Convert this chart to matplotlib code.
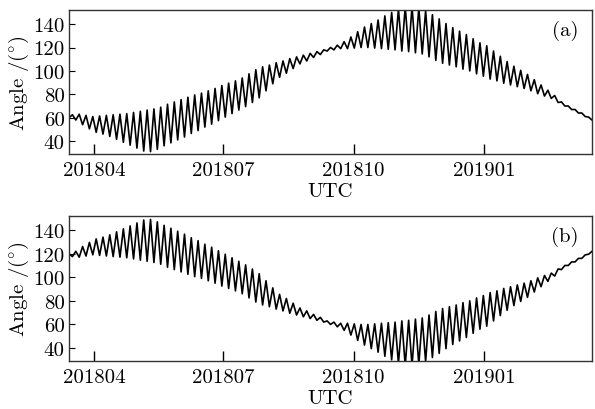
import numpy as np
import matplotlib
matplotlib.use("Agg")
import matplotlib.pyplot as plt
import matplotlib.dates as mdates

# 时间范围 (UTC)
t_start = np.datetime64("2018-03-14T10:00")
t_end = np.datetime64("2019-03-18T00:00")

# (a) 每个周期的峰值 / 谷值 (度)
start_a = 60.0
peaks_a = [62.5, 63, 62, 61, 61.5, 62, 62.5, 63, 63.5, 64.5,
           65.5, 66.5, 67.5, 69, 71.5, 73.5, 75.5, 77.5, 79.5, 81,
           83, 85, 87.5, 89.5, 91.5, 94, 97.5, 101, 103.5, 105,
           107, 108.5, 110.5, 112, 113.5, 115, 116.5, 118, 120, 122,
           125, 129, 133.5, 137.5, 140.5, 143.5, 147, 150, 153, 155,
           155, 154, 151.5, 148, 144.5, 140.5, 137, 134, 131, 127.5,
           124, 121.5, 117, 112.5, 108, 104, 100.5, 97, 92.5, 88,
           83.5, 79, 73.5, 70, 67, 64, 60.5]
troughs_a = [58, 54, 50.5, 47.5, 46, 44, 41.5, 39, 36.5, 34,
             31.5, 31, 33, 36, 38.5, 41, 43.5, 46.5, 49, 52,
             54.5, 57.5, 60.5, 63.5, 66.5, 69.5, 73, 77, 83, 89,
             94.5, 98, 102, 106, 108.5, 111.5, 114, 117, 118, 119,
             119, 119.5, 120, 120, 119.5, 119, 118.5, 118, 117, 116.5,
             115.5, 114.5, 112, 109, 106.5, 105, 103.5, 101.5, 100, 97.5,
             95.5, 93, 91.5, 89.5, 88, 86.5, 85, 83, 80.5, 78.5,
             76.5, 73, 70, 67, 64, 61, 58]

# (b) 每个周期的谷值 / 峰值 (度)
start_b = 120.0
troughs_b = [117.5, 117, 118, 119, 118.5, 118, 117.5, 117, 116.5, 115.5,
             114.5, 113.5, 112.5, 111, 108.5, 106.5, 104.5, 102.5, 100.5, 99,
             97, 95, 92.5, 90.5, 88.5, 86, 82.5, 79, 76.5, 75,
             73, 71.5, 69.5, 68, 66.5, 65, 63.5, 62, 60, 58,
             55, 51, 46.5, 42.5, 39.5, 36.5, 33, 30, 27, 25,
             25, 26, 28.5, 32, 35.5, 39.5, 43, 46, 49, 52.5,
             56, 58.5, 63, 67.5, 72, 76, 79.5, 83, 87.5, 92,
             96.5, 101, 106.5, 110, 113, 116, 119.5]
peaks_b = [122, 126, 129.5, 132.5, 134, 136, 138.5, 141, 143.5, 146,
           148.5, 149, 147, 144, 141.5, 139, 136.5, 133.5, 131, 128,
           125.5, 122.5, 119.5, 116.5, 113.5, 110.5, 107, 103, 97, 91,
           85.5, 82, 78, 74, 71.5, 68.5, 66, 63, 62, 61,
           61, 60.5, 60, 60, 60.5, 61, 61.5, 62, 63, 63.5,
           64.5, 65.5, 68, 71, 73.5, 75, 76.5, 78.5, 80, 82.5,
           84.5, 87, 88.5, 90.5, 92, 93.5, 95, 97, 99.5, 101.5,
           103.5, 107, 110, 113, 116, 119, 122]

yticks = [40, 60, 80, 100, 120, 140]


def series(start, first, second):
    vals = [start]
    for p, q in zip(first, second):
        vals.append(p)
        vals.append(q)
    vals = np.array(vals)
    span = (t_end - t_start).astype("timedelta64[m]").astype(float)
    t = t_start + (np.linspace(0, span, len(vals))).astype("timedelta64[m]")
    return t, vals


plt.rcParams["font.family"] = "serif"
plt.rcParams["font.serif"] = ["cmr10", "DejaVu Serif"]
plt.rcParams["mathtext.fontset"] = "cm"
plt.rcParams["axes.unicode_minus"] = False
fs = 15

fig = plt.figure(figsize=(5.95, 4.10), dpi=100)
ax_a = fig.add_axes([0.116, 0.622, 0.879, 0.351])
ax_b = fig.add_axes([0.116, 0.117, 0.879, 0.354])

data = [(ax_a, series(start_a, peaks_a, troughs_a), "(a)"),
        (ax_b, series(start_b, troughs_b, peaks_b), "(b)")]

for ax, (t, v), tag in data:
    ax.plot(t, v, color="black", lw=1.2)
    ax.set_xlim(t_start, t_end)
    ax.set_ylim(29, 152)
    ax.set_yticks(yticks)
    ax.xaxis.set_major_locator(mdates.MonthLocator(bymonth=[1, 4, 7, 10]))
    ax.xaxis.set_major_formatter(mdates.DateFormatter("%Y%m"))
    ax.tick_params(axis="x", direction="in", length=7, width=1, pad=5, labelsize=fs)
    ax.tick_params(axis="y", direction="in", length=4, width=0.8, pad=3, labelsize=fs)
    for s in ax.spines.values():
        s.set_linewidth(1.0)
        s.set_color("#333333")
    ax.set_xlabel("UTC", fontsize=fs, labelpad=2)
    ax.set_ylabel(r"Angle /($^{\circ}$)", fontsize=fs, labelpad=2)
    ax.text(0.975, 0.83, tag, transform=ax.transAxes, ha="right", fontsize=fs)

fig.savefig("out.png", dpi=100)
